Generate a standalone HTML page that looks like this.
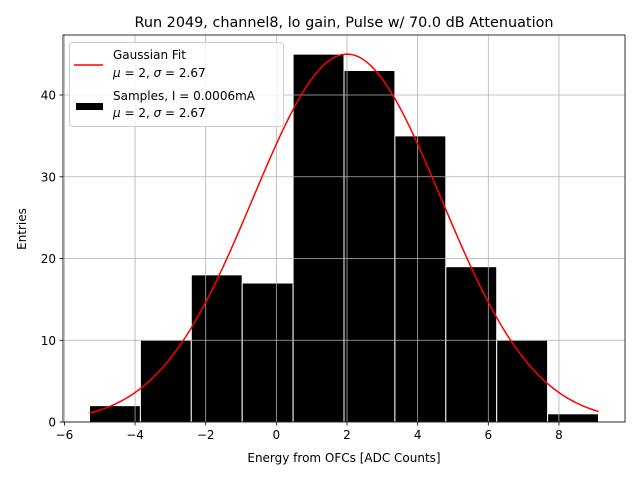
<!DOCTYPE html>
<html><head><meta charset="utf-8"><style>
body{margin:0;background:#fff}
svg{display:block;font-family:"DejaVu Sans","Liberation Sans",sans-serif}
</style></head><body>
<svg id="chart" width="640" height="480">
<rect width="640" height="480" fill="#fff"/>
<text x="344" y="27" font-size="14.4" text-anchor="middle">Run 2049, channel8, lo gain, Pulse w/ 70.0 dB Attenuation</text>
<g id="bars"></g><g id="grid"></g><g id="fit"></g><g id="axes"></g>
<text x="344" y="462" font-size="12" text-anchor="middle">Energy from OFCs [ADC Counts]</text>
<text x="0" y="0" font-size="12" text-anchor="middle" transform="translate(26,229) rotate(-90)">Entries</text>
<g>
<rect x="69.5" y="42.5" width="214" height="84" rx="3" fill="#fff" fill-opacity="0.8" stroke="#ccc"/>
<line x1="74" y1="65" x2="103" y2="65" stroke="red" stroke-width="1.5"/>
<text x="113" y="59" font-size="12">Gaussian Fit</text>
<text x="113" y="77" font-size="12"><tspan font-style="italic">μ</tspan> = 2, <tspan font-style="italic">σ</tspan> = 2.67</text>
<rect x="76" y="103" width="27" height="7" fill="#000"/>
<text x="113" y="100" font-size="12">Samples, I = 0.0006mA</text>
<text x="113" y="117" font-size="12"><tspan font-style="italic">μ</tspan> = 2, <tspan font-style="italic">σ</tspan> = 2.67</text>
</g>
</svg>
<script>
const binStart = -5.29;
const binWidth = 1.441;
const counts = [2, 10, 18, 17, 45, 43, 35, 19, 10, 1];
const xTicks = [-6, -4, -2, 0, 2, 4, 6, 8];
const yTicks = [0, 10, 20, 30, 40];
const fitMu = 2, fitSigma = 2.67, fitAmp = 45;
const L=63,R=625,T=35,B=422;
const xMin=-6.04, xMax=9.87, yMax=47.34;
const sx=v=>L+(v-xMin)/(xMax-xMin)*(R-L);
const sy=v=>B-v/yMax*(B-T);
const NS='http://www.w3.org/2000/svg';
function mk(parent,tag,attrs){const e=document.createElementNS(NS,tag);for(const k in attrs)e.setAttribute(k,attrs[k]);document.getElementById(parent).appendChild(e);return e;}
counts.forEach((c,i)=>{
  const x0=binStart+i*binWidth, x1=x0+binWidth;
  const r=mk('bars','rect',{x:sx(x0),y:sy(c),width:sx(x1)-sx(x0),height:sy(0)-sy(c),fill:'#000',stroke:'#fff','stroke-width':1});
  
  
});
xTicks.forEach(t=>{
  const g=mk('grid','line',{x1:sx(t),x2:sx(t),y1:T,y2:B,stroke:'#b0b0b0','stroke-width':0.8});
  
  
  mk('axes','line',{x1:sx(t),x2:sx(t),y1:B,y2:B+3.5,stroke:'#000','stroke-width':0.8});
  const tx=mk('axes','text',{x:sx(t),y:B+17,'font-size':12,'text-anchor':'middle'});
  tx.textContent=(t<0?'\u2212'+(-t):t);
  
  
});
yTicks.forEach(t=>{
  const g=mk('grid','line',{x1:L,x2:R,y1:sy(t),y2:sy(t),stroke:'#b0b0b0','stroke-width':0.8});
  
  
  mk('axes','line',{x1:L-3.5,x2:L,y1:sy(t),y2:sy(t),stroke:'#000','stroke-width':0.8});
  const tx=mk('axes','text',{x:L-7,y:sy(t)+4.5,'font-size':12,'text-anchor':'end'});
  tx.textContent=t;
  
  
});
let d='';
const a=binStart, b=binStart+counts.length*binWidth;
for(let i=0;i<=200;i++){const x=a+(b-a)*i/200;const y=fitAmp*Math.exp(-((x-fitMu)**2)/(2*fitSigma*fitSigma));d+=(i?'L':'M')+sx(x).toFixed(2)+','+sy(y).toFixed(2);}
const p=mk('fit','path',{d:d,fill:'none',stroke:'red','stroke-width':1.5});


const fr=mk('axes','rect',{x:L,y:T,width:R-L,height:B-T,fill:'none',stroke:'#000','stroke-width':0.8});


</script>
</body></html>
